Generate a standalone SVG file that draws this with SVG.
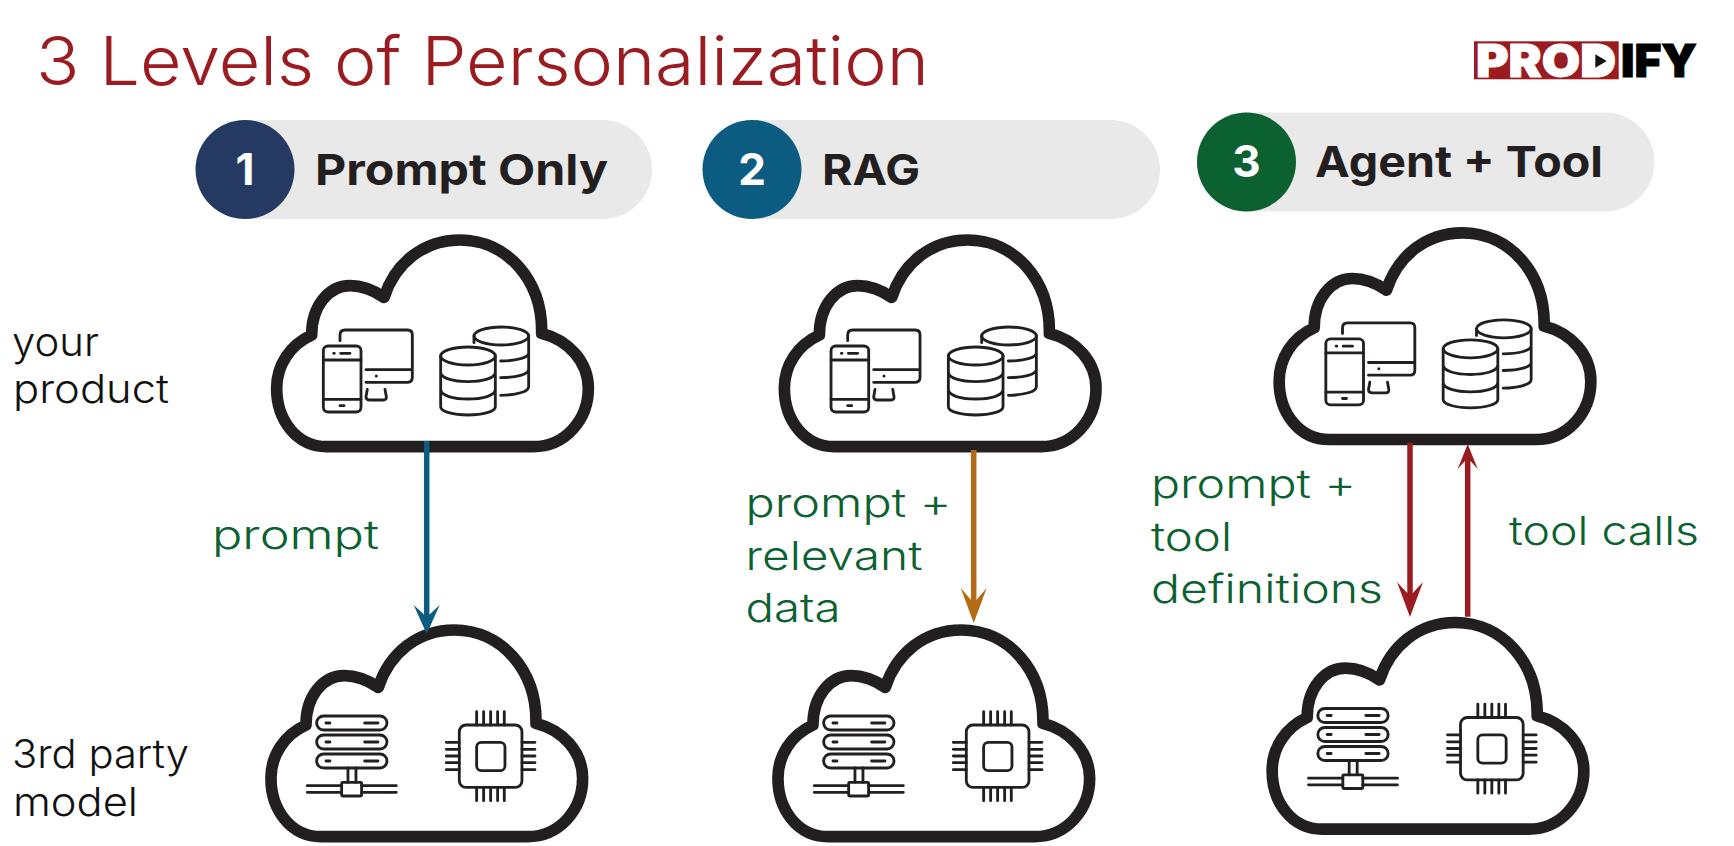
<svg xmlns="http://www.w3.org/2000/svg" width="1734" height="846" viewBox="0 0 1734 846">
<style>
text{font-family:"Inter","Noto Sans","Liberation Sans",sans-serif}
.title{font-size:67px;font-weight:300;fill:#9b1c20}
.head{font-size:43px;font-weight:700;fill:#231f20}
.num{font-size:44px;font-weight:700;fill:#fff;text-anchor:middle}
.side{font-size:40px;font-weight:300;fill:#111}
.lab{font-size:40px;font-weight:300;fill:#0b6130}
.pill{fill:#e9e9e9}
.logo{font-size:45px;font-weight:900;stroke-width:1}
.cl{fill:#fff;stroke:#231f20;stroke-width:35;stroke-linejoin:round}
.ic{fill:none;stroke:#231f20;stroke-width:8.5;stroke-linecap:round;stroke-linejoin:round}
.dot{fill:#231f20}
.conn{fill:none}
</style>
<defs>
<path id="cloud" class="cl" d="M260 680H880C975 680 1045 600 1045 505C1045 425 985 360 905 340C908 180 800 60 660 60C550 60 465 130 432 232C400 210 370 197 330 197C265 197 215 260 215 345C150 375 110 435 110 505C110 600 170 680 260 680Z"/>
<g id="productIcons">
<path class="ic" d="M300 362V345Q300 330 315 330H503Q517 330 517 345V472Q517 487 503 487H378M378 449H517M382 508L378 530Q378 540 390 540H430Q440 540 439 530L435 508"/>
<circle class="dot" cx="409" cy="468" r="4.5"/>
<rect class="ic" x="250" y="378" width="113" height="198" rx="14"/>
<path class="ic" d="M250 420H363M250 538H363M302 400H330M300 557H312M281 400H283"/>
<ellipse class="ic" cx="684" cy="408" rx="82" ry="27"/>
<path class="ic" d="M602 408V560C602 575 640 585 684 585C728 585 766 575 766 560V408M602 456C602 475 640 485 684 485C728 485 766 475 766 456M602 508C602 527 640 537 684 537C728 537 766 527 766 508"/>
<ellipse class="ic" cx="784" cy="348" rx="82" ry="27"/>
<path class="ic" d="M866 348V500C866 515 830 525 782 526M782 423C830 423 866 413 866 398M782 473C830 473 866 463 866 448M702 348V368"/>
</g>
<g id="modelIcons">
<rect class="ic" x="247" y="318" width="211" height="42" rx="21"/>
<rect class="ic" x="247" y="375" width="211" height="42" rx="21"/>
<rect class="ic" x="247" y="432" width="211" height="42" rx="21"/>
<path class="ic" d="M275 339H287M391 339H431M275 396H287M391 396H431M275 453H287M391 453H431M341 474V517M365 474V517M219 527H322M219 547H322M382 527H486M382 547H486"/>
<rect class="ic" x="322" y="517" width="60" height="41" rx="3"/>
<rect class="ic" x="675" y="345" width="188" height="187" rx="20"/>
<rect class="ic" x="727" y="397" width="85" height="85" rx="14"/>
<path class="ic" d="M727 305V345M748 305V345M769 305V345M790 305V345M810 305V345M727 532V572M748 532V572M769 532V572M790 532V572M810 532V572M636 397H675M636 418H675M636 438H675M636 458H675M636 479H675M863 397H902M863 418H902M863 438H902M863 458H902M863 479H902"/>
</g>
<marker id="hBlue" markerUnits="userSpaceOnUse" viewBox="0 0 30 28" markerWidth="30" markerHeight="28" refX="12" refY="14" orient="auto"><path d="M0 1L29 14L0 27L12 14Z" fill="#0b5c80"/></marker>
<marker id="hOrange" markerUnits="userSpaceOnUse" viewBox="0 0 36 28" markerWidth="36" markerHeight="28" refX="15" refY="14" orient="auto"><path d="M0 1L35 14L0 27L15 14Z" fill="#b36b17"/></marker>
<marker id="hRed" markerUnits="userSpaceOnUse" viewBox="0 0 36 28" markerWidth="36" markerHeight="28" refX="14" refY="14" orient="auto"><path d="M0 1L35 14L0 27L14 14Z" fill="#9b1c20"/></marker>
<marker id="hRedS" markerUnits="userSpaceOnUse" viewBox="0 0 26 22" markerWidth="26" markerHeight="22" refX="11" refY="11" orient="auto"><path d="M0 1L25 11L0 21L11 11Z" fill="#9b1c20"/></marker>
</defs>
<rect width="1734" height="846" fill="#fff"/>
<text class="title" x="36" y="85" textLength="893" lengthAdjust="spacingAndGlyphs">3 Levels of Personalization</text>
<g id="logo">
<rect x="1474" y="41.3" width="144.7" height="38" fill="#9b1c20"/>
<text class="logo" x="1476" y="76.7" fill="#fff" stroke="#fff" textLength="140" lengthAdjust="spacingAndGlyphs">PROD</text>
<rect x="1590" y="52" width="19" height="18" fill="#fff"/>
<polygon points="1595.3,54.3 1606.7,60.9 1595.3,67.7" fill="#111"/>
<text class="logo" x="1621" y="76.7" fill="#000" stroke="#000" textLength="76" lengthAdjust="spacingAndGlyphs">IFY</text>
</g>
<g id="level1">
<rect class="pill" x="196" y="120" width="456" height="99" rx="49.5"/>
<circle cx="245" cy="169.5" r="49.5" fill="#253a63"/>
<text class="num" x="245" y="185">1</text>
<text class="head" x="315" y="185" textLength="293" lengthAdjust="spacingAndGlyphs">Prompt Only</text>
</g>
<g id="level2">
<rect class="pill" x="703" y="120" width="457" height="99" rx="49.5"/>
<circle cx="752" cy="169.5" r="49.5" fill="#0b5c80"/>
<text class="num" x="752" y="185">2</text>
<text class="head" x="822" y="185" textLength="98" lengthAdjust="spacingAndGlyphs">RAG</text>
</g>
<g id="level3">
<rect class="pill" x="1197" y="112.5" width="457.5" height="99" rx="49.5"/>
<circle cx="1246.5" cy="162" r="49.5" fill="#0b6130"/>
<text class="num" x="1246.5" y="177">3</text>
<text class="head" x="1315" y="177" textLength="288" lengthAdjust="spacingAndGlyphs">Agent + Tool</text>
</g>
<g id="side-labels">
<text class="side" x="12" y="356" textLength="87" lengthAdjust="spacingAndGlyphs">your</text>
<text class="side" x="13" y="403" textLength="156" lengthAdjust="spacingAndGlyphs">product</text>
<text class="side" x="12" y="767.7" textLength="177" lengthAdjust="spacingAndGlyphs">3rd party</text>
<text class="side" x="13" y="815.7" textLength="125" lengthAdjust="spacingAndGlyphs">model</text>
</g>
<g id="product-cloud-1" transform="translate(240 220) scale(.33333)"><use href="#cloud"/><use href="#productIcons"/></g>
<g id="product-cloud-2" transform="translate(747.7 220) scale(.33333)"><use href="#cloud"/><use href="#productIcons"/></g>
<g id="product-cloud-3" transform="translate(1242.5 212.8) scale(.33333)"><use href="#cloud"/><use href="#productIcons"/></g>
<g id="model-cloud-1" transform="translate(234.3 610) scale(.33333)"><use href="#cloud"/><use href="#modelIcons"/></g>
<g id="model-cloud-2" transform="translate(741.3 610) scale(.33333)"><use href="#cloud"/><use href="#modelIcons"/></g>
<g id="model-cloud-3" transform="translate(1235.5 602.5) scale(.33333)"><use href="#cloud"/><use href="#modelIcons"/></g>
<g id="connectors" class="conn">
<path d="M426.7 441V617" stroke="#0b5c80" stroke-width="5.5" marker-end="url(#hBlue)"/>
<path d="M973.7 450V603" stroke="#b36b17" stroke-width="5.5" marker-end="url(#hOrange)"/>
<path d="M1410 442.7V596" stroke="#9b1c20" stroke-width="5.5" marker-end="url(#hRed)"/>
<path d="M1467.7 616.7V458" stroke="#9b1c20" stroke-width="5.5" marker-end="url(#hRedS)"/>
</g>
<g id="edge-labels">
<text class="lab" x="212" y="549" textLength="167" lengthAdjust="spacingAndGlyphs">prompt</text>
<text class="lab" x="745.5" y="517" textLength="206" lengthAdjust="spacingAndGlyphs">prompt +</text>
<text class="lab" x="745.5" y="570" textLength="177" lengthAdjust="spacingAndGlyphs">relevant</text>
<text class="lab" x="745.5" y="621.7" textLength="95" lengthAdjust="spacingAndGlyphs">data</text>
<text class="lab" x="1151" y="498.3" textLength="205" lengthAdjust="spacingAndGlyphs">prompt +</text>
<text class="lab" x="1151" y="550.7" textLength="81" lengthAdjust="spacingAndGlyphs">tool</text>
<text class="lab" x="1151" y="603" textLength="232" lengthAdjust="spacingAndGlyphs">definitions</text>
<text class="lab" x="1509" y="545" textLength="190" lengthAdjust="spacingAndGlyphs">tool calls</text>
</g>
</svg>
